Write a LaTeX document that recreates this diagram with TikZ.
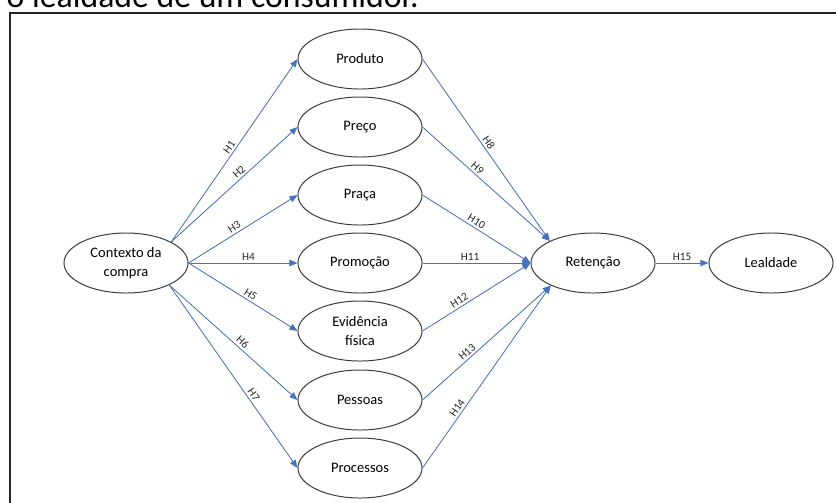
\documentclass[tikz,border=0pt]{standalone}
\usepackage{fontspec}
\setmainfont{Carlito}
\usepackage{tikz}
\usetikzlibrary{arrows.meta, shapes.geometric}
\definecolor{linkblue}{HTML}{4472C4}
\definecolor{edgegray}{HTML}{3A3A3A}

\begin{document}
\begin{tikzpicture}[
  x=0.025cm, y=-0.025cm,
  font=\fontsize{10.3}{13}\selectfont,
  construct/.style={ellipse, draw=edgegray, line width=0.7pt, fill=white,
                    minimum width=3.1cm, minimum height=1.5cm, align=center, inner sep=0pt},
  arr/.style={-{Triangle[length=2mm, width=1.6mm]}, line width=0.6pt, draw=linkblue},
  hyp/.style={font=\fontsize{8}{9}\selectfont, sloped, above, inner sep=1.5pt, text=black!85},
  frame/.style={draw=black!85, line width=0.8pt}
]
\useasboundingbox (0,0) rectangle (836,502);
\clip (0,0) rectangle (836,502);

% caption cut off at the top
\node[anchor=base east, inner sep=0pt, font=\fontsize{24}{28}\selectfont] (caption) at (419,7.5) {o lealdade de um consumidor.};

% outer frame
\draw[frame] (10,540) -- (10,13) -- (860,13);

% antecedent
\node[construct] (ctx) at (126,263) {Contexto da\\compra};

% marketing mix
\node[construct] (prod)  at (360,59)  {Produto};
\node[construct] (preco) at (360,127) {Preço};
\node[construct] (praca) at (360,195) {Praça};
\node[construct] (promo) at (360,263) {Promoção};
\node[construct] (evid)  at (360,331) {Evidência\\física};
\node[construct] (pess)  at (360,400) {Pessoas};
\node[construct] (proc)  at (360,468) {Processos};

% outcomes
\node[construct] (ret)  at (593,263) {Retenção};
\node[construct] (leal) at (771,263) {Lealdade};

% arrows H1--H7
\draw[arr] (ctx.25)  -- node[hyp, pos=0.5]  {H1} (prod.west);
\draw[arr] (ctx.25)  -- node[hyp, pos=0.57] {H2} (preco.west);
\draw[arr] (ctx.east) -- node[hyp, pos=0.45] {H3} (praca.west);
\draw[arr] (ctx.east) -- node[hyp, pos=0.55] {H4} (promo.west);
\draw[arr] (ctx.east) -- node[hyp, pos=0.54] {H5} (evid.west);
\draw[arr] (ctx.-27) -- node[hyp, pos=0.54] {H6} (pess.west);
\draw[arr] (ctx.-27) -- node[hyp, pos=0.62] {H7} (proc.west);

% arrows H8--H14
\draw[arr] (prod.east)  -- node[hyp, pos=0.48] {H8}  (ret.153);
\draw[arr] (preco.east) -- node[hyp, pos=0.4]  {H9}  (ret.153);
\draw[arr] (praca.east) -- node[hyp, pos=0.47] {H10} (ret.west);
\draw[arr] (promo.east) -- node[hyp, pos=0.44] {H11} (ret.west);
\draw[arr] (evid.east)  -- node[hyp, pos=0.37] {H12} (ret.west);
\draw[arr] (pess.east)  -- node[hyp, pos=0.38] {H13} (ret.208);
\draw[arr] (proc.east)  -- node[hyp, pos=0.31] {H14} (ret.208);

% arrow H15
\draw[arr] (ret) -- node[hyp, pos=0.5] {H15} (leal);
\end{tikzpicture}
\end{document}
